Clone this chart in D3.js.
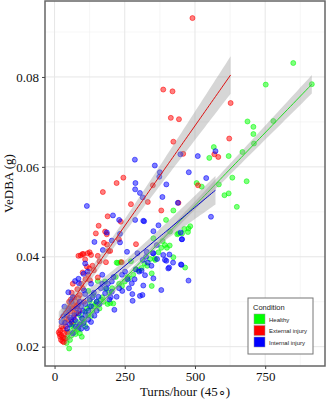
<!DOCTYPE html>
<html>
<head>
<meta charset="utf-8">
<script src="https://cdn.jsdelivr.net/npm/d3@7"></script>
<style>
  body { margin: 0; background: #fff; }
  svg { display: block; }
</style>
</head>
<body>
<div class="container"></div>
<script>
// Data: [turns/hour, VeDBA]
const conditions = ['Healthy', 'External injury', 'Internal injury']
const conditionColors = ['#00ff00', '#ff0000', '#0000ff']
const lineColors = ['#22dd22', '#dd1111', '#0000cc']

const healthy = [
  [850,0.0831],[916,0.0784],[752,0.0783],[687,0.0701],[779,0.0702],[708,0.0689],[708,0.0673],
  [710,0.0652],[567,0.0644],[620,0.0624],[669,0.0633],[551,0.0620],[506,0.0564],[524,0.0556],
  [585,0.0561],[684,0.0568],[633,0.0576],[605,0.0537],[620,0.0541],[649,0.0511],[423,0.0503],
  [272,0.0390],[380,0.0420],[357,0.0396],[423,0.0399],[465,0.0376],[441,0.0452],[454,0.0452],
  [477,0.0463],[483,0.0468],[411,0.0456],[397,0.0482],[437,0.0450],[462,0.0462],[352,0.0441],
  [393,0.0426],[400,0.0420],[358,0.0393],[346,0.0363],[346,0.0335],[221,0.0387],[225,0.0386],
  [235,0.0388],[154,0.0346],[180,0.0345],[218,0.0355],[265,0.0352],[300,0.0370],[120,0.0324],
  [182,0.0329],[138,0.0315],[126,0.0302],[209,0.0296],[189,0.0295],[109,0.0278],[156,0.0293],
  [52,0.0233],[61,0.0246],[97,0.0222],[52,0.0196],[43,0.0208],[140,0.0290],[165,0.0305],
  [195,0.0320],[240,0.0335],[250,0.0345],[280,0.0360],[310,0.0375],[330,0.0380],[80,0.0255],
  [90,0.0270],[70,0.0240],[115,0.0285],[150,0.0300],[205,0.0330],[230,0.0340],[260,0.0355],
  [290,0.0372],[320,0.0385],[340,0.0395],[370,0.0410],[60,0.0225],[100,0.0262],[130,0.0268],
  [170,0.0310],[75,0.0228],[85,0.0238],[385,0.0435],[410,0.0425],[475,0.0455],[198,0.0297],
  [45,0.0220],[55,0.0215],[65,0.0250],[80,0.0240],[95,0.0250],[105,0.0255],[120,0.0270],
  [135,0.0280],[145,0.0295],[160,0.0285],[175,0.0300],[70,0.0232],[90,0.0230],[110,0.0245],
  [125,0.0290]
]

const externalInjury = [
  [491,0.0931],[387,0.0772],[420,0.0768],[627,0.0742],[414,0.0709],[443,0.0706],[423,0.0656],
  [622,0.0663],[569,0.0628],[583,0.0622],[458,0.0629],[245,0.0576],[221,0.0564],[350,0.0559],
  [511,0.0559],[172,0.0544],[272,0.0517],[332,0.0522],[441,0.0520],[380,0.0503],[189,0.0490],
  [236,0.0478],[157,0.0469],[180,0.0456],[147,0.0452],[186,0.0450],[229,0.0439],[290,0.0428],
  [176,0.0431],[187,0.0427],[198,0.0413],[192,0.0413],[125,0.0410],[103,0.0406],[93,0.0403],
  [85,0.0402],[99,0.0406],[118,0.0408],[130,0.0404],[109,0.0394],[154,0.0402],[183,0.0388],
  [239,0.0388],[124,0.0374],[115,0.0378],[126,0.0348],[154,0.0354],[81,0.0328],[61,0.0320],
  [85,0.0308],[61,0.0285],[55,0.0278],[71,0.0273],[20,0.0236],[23,0.0215],[30,0.0220],
  [25,0.0225],[35,0.0230],[40,0.0245],[50,0.0260],[65,0.0295],[75,0.0300],[90,0.0315],
  [100,0.0330],[70,0.0310],[45,0.0270],[55,0.0290],[95,0.0340],[110,0.0350],[80,0.0290],
  [30,0.0240],[15,0.0232],[28,0.0212],[38,0.0218],[60,0.0255],[88,0.0280],[105,0.0300],
  [120,0.0360],[140,0.0370],[135,0.0380],[160,0.0390],[100,0.0365],[65,0.0340],
  [20,0.0222],[25,0.0245],[35,0.0255],[42,0.0262],[48,0.0280],[52,0.0300],[58,0.0305],
  [66,0.0285],[72,0.0290],[78,0.0275],[85,0.0295],[68,0.0265],[33,0.0210],[45,0.0232],
  [18,0.0228]
]

const internalInjury = [
  [573,0.0635],[448,0.0628],[510,0.0624],[286,0.0616],[357,0.0603],[478,0.0588],[375,0.0588],
  [373,0.0578],[288,0.0564],[398,0.0561],[540,0.0575],[287,0.0550],[304,0.0542],[314,0.0532],
  [384,0.0533],[115,0.0513],[557,0.0489],[439,0.0520],[208,0.0492],[230,0.0482],[287,0.0482],
  [319,0.0479],[186,0.0454],[233,0.0451],[142,0.0433],[172,0.0415],[258,0.0411],[295,0.0408],
  [326,0.0400],[350,0.0408],[387,0.0404],[398,0.0391],[422,0.0387],[408,0.0376],[452,0.0382],
  [477,0.0347],[454,0.0439],[370,0.0470],[352,0.0457],[380,0.0326],[313,0.0315],[278,0.0302],
  [213,0.0282],[204,0.0436],[233,0.0432],[109,0.0385],[118,0.0367],[103,0.0362],[85,0.0351],
  [73,0.0346],[87,0.0341],[204,0.0345],[251,0.0367],[275,0.0341],[289,0.0372],[301,0.0367],
  [204,0.0322],[241,0.0324],[221,0.0311],[277,0.0317],[156,0.0311],[49,0.0321],[109,0.0317],
  [180,0.0319],[304,0.0313],[35,0.0289],[31,0.0268],[85,0.0274],[97,0.0263],[120,0.0280],
  [103,0.0252],[85,0.0244],[73,0.0259],[115,0.0241],[37,0.0253],[142,0.0269],[316,0.0480],
  [449,0.0454],[453,0.0439],[364,0.0426],[328,0.0411],[352,0.0408],[409,0.0405],[393,0.0393],
  [314,0.0393],[332,0.0387],[450,0.0383],[405,0.0374],[310,0.0369],[322,0.0359],[352,0.0352],
  [316,0.0336],[130,0.0290],[150,0.0300],[165,0.0330],[190,0.0340],[210,0.0355],[260,0.0350],
  [240,0.0360],[60,0.0300],[55,0.0265],[45,0.0240],[95,0.0290],[130,0.0340],[170,0.0360],
  [140,0.0320],[125,0.0305],[195,0.0305],[265,0.0330],[285,0.0350],[345,0.0380],[365,0.0395],
  [65,0.0230],[90,0.0250],[110,0.0270],[185,0.0330],[230,0.0330],[25,0.0255],
  [40,0.0275],[50,0.0285],[60,0.0260],[70,0.0270],[80,0.0285],[90,0.0300],[100,0.0280],
  [110,0.0295],[120,0.0260],[130,0.0255],[75,0.0245],[95,0.0240],[55,0.0250],[65,0.0310],
  [105,0.0325],[135,0.0310],[150,0.0280],[160,0.0295],[170,0.0340],[200,0.0310]
]

const xTicks = [0, 250, 500, 750]
const xMinor = [125, 375, 625, 875]
const yTicks = [0.02, 0.04, 0.06, 0.08]
const yMinor = [0.03, 0.05, 0.07, 0.09]

const groups = [healthy, externalInjury, internalInjury]

const width = 326
const height = 400
const panel = {left: 45, right: 325, top: 1, bottom: 366}

const svg = d3.select('.container')
    .append('svg')
    .attr('width', width)
    .attr('height', height)

const x = d3.scaleLinear().domain([-34, 963]).range([panel.left, panel.right])
const y = d3.scaleLinear().domain([0.0157, 0.0969]).range([panel.bottom, panel.top])

// grid
const grid = svg.append('g')
grid.selectAll('.vminor').data(xMinor).enter().append('line')
    .attr('x1', d => x(d)).attr('x2', d => x(d))
    .attr('y1', panel.top).attr('y2', panel.bottom)
    .attr('stroke', '#f0f0f0').attr('stroke-width', 0.6)
grid.selectAll('.hminor').data(yMinor).enter().append('line')
    .attr('y1', d => y(d)).attr('y2', d => y(d))
    .attr('x1', panel.left).attr('x2', panel.right)
    .attr('stroke', '#f0f0f0').attr('stroke-width', 0.6)
grid.selectAll('.vmajor').data(xTicks).enter().append('line')
    .attr('x1', d => x(d)).attr('x2', d => x(d))
    .attr('y1', panel.top).attr('y2', panel.bottom)
    .attr('stroke', '#e6e6e6').attr('stroke-width', 1)
grid.selectAll('.hmajor').data(yTicks).enter().append('line')
    .attr('y1', d => y(d)).attr('y2', d => y(d))
    .attr('x1', panel.left).attr('x2', panel.right)
    .attr('stroke', '#e6e6e6').attr('stroke-width', 1)

// points
const pts = svg.append('g')
groups.forEach((g, i) => {
    pts.selectAll('.p' + i).data(g).enter().append('circle')
        .attr('cx', d => x(d[0]))
        .attr('cy', d => y(d[1]))
        .attr('r', 2.5)
        .attr('fill', conditionColors[i])
        .attr('fill-opacity', 0.5)
        .attr('stroke', conditionColors[i])
        .attr('stroke-opacity', 0.6)
        .attr('stroke-width', 0.9)
})

// linear fits with 95% band, like geom_smooth(method = 'lm')
function fit(data) {
    const n = data.length
    const mx = d3.mean(data, d => d[0])
    const my = d3.mean(data, d => d[1])
    const sxx = d3.sum(data, d => (d[0] - mx) ** 2)
    const sxy = d3.sum(data, d => (d[0] - mx) * (d[1] - my))
    const b = sxy / sxx
    const a = my - b * mx
    const s = Math.sqrt(d3.sum(data, d => (d[1] - a - b * d[0]) ** 2) / (n - 2))
    const [x0, x1] = d3.extent(data, d => d[0])
    return d3.range(0, 81).map(k => {
        const xv = x0 + (x1 - x0) * k / 80
        const se = s * Math.sqrt(1 / n + (xv - mx) ** 2 / sxx)
        return {x: xv, y: a + b * xv, lo: a + b * xv - 1.98 * se, hi: a + b * xv + 1.98 * se}
    })
}

const smooth = svg.append('g')
groups.forEach((g, i) => {
    const f = fit(g)
    smooth.append('path')
        .datum(f)
        .attr('d', d3.area().x(d => x(d.x)).y0(d => y(d.lo)).y1(d => y(d.hi)))
        .attr('fill', '#999999')
        .attr('fill-opacity', 0.4)
    smooth.append('path')
        .datum(f)
        .attr('d', d3.line().x(d => x(d.x)).y(d => y(d.y)))
        .attr('fill', 'none')
        .attr('stroke', lineColors[i])
        .attr('stroke-width', 1)
})

// panel border
svg.append('rect')
    .attr('x', panel.left).attr('y', panel.top)
    .attr('width', panel.right - panel.left).attr('height', panel.bottom - panel.top)
    .attr('fill', 'none').attr('stroke', '#666').attr('stroke-width', 1.5)

// axes
const xAxis = svg.append('g')
    .attr('transform', `translate(0, ${panel.bottom})`)
    .call(d3.axisBottom(x).tickValues(xTicks).tickSize(3).tickPadding(3).tickFormat(d3.format('d')))
const yAxis = svg.append('g')
    .attr('transform', `translate(${panel.left}, 0)`)
    .call(d3.axisLeft(y).tickValues(yTicks).tickSize(3).tickPadding(3).tickFormat(d3.format('.2f')))

;[xAxis, yAxis].forEach(a => {
    a.select('.domain').remove()
    a.selectAll('.tick line').attr('stroke', '#444')
    a.selectAll('.tick text')
        .attr('fill', '#111')
        .style('font-family', '"Liberation Serif", "Times New Roman", serif')
        .style('font-size', '13px')
})

svg.append('text')
    .attr('x', (panel.left + panel.right) / 2)
    .attr('y', 396)
    .attr('text-anchor', 'middle')
    .style('font-family', '"Liberation Serif", "Times New Roman", serif')
    .style('font-size', '13px')
    .attr('fill', '#111')
    .text('Turns/hour (45\u2218)')

svg.append('text')
    .attr('transform', `translate(13, ${(panel.top + panel.bottom) / 2}) rotate(-90)`)
    .attr('text-anchor', 'middle')
    .style('font-family', '"Liberation Serif", "Times New Roman", serif')
    .style('font-size', '13px')
    .attr('fill', '#111')
    .text('VeDBA (g)')

// legend
const legend = svg.append('g').attr('transform', 'translate(248, 298)')
legend.append('rect')
    .attr('width', 65).attr('height', 56)
    .attr('fill', '#fff').attr('stroke', '#777').attr('stroke-width', 1)
legend.append('text')
    .attr('x', 5).attr('y', 12)
    .style('font-family', '"Liberation Sans", Arial, sans-serif')
    .style('font-size', '7.5px')
    .attr('fill', '#222')
    .text('Condition')

const items = legend.selectAll('.item').data(conditions).enter().append('g')
    .attr('transform', (d, i) => `translate(6, ${16 + i * 11.5})`)
items.append('rect')
    .attr('width', 11).attr('height', 10)
    .attr('fill', (d, i) => conditionColors[i])
    .attr('stroke', '#999').attr('stroke-width', 0.5)
items.append('text')
    .attr('x', 15).attr('y', 7.5)
    .style('font-family', '"Liberation Sans", Arial, sans-serif')
    .style('font-size', '6px')
    .attr('fill', '#222')
    .text(d => d)
</script>
</body>
</html>
